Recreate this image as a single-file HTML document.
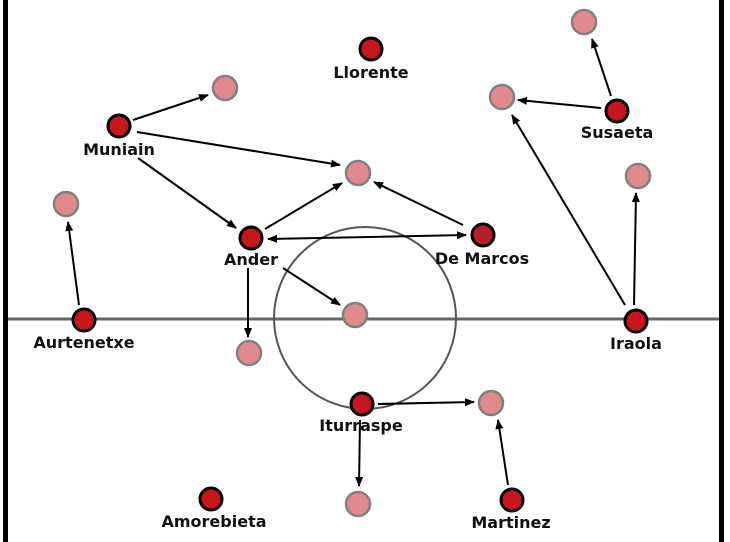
<!DOCTYPE html><html><head><style>body{margin:0;background:#fff}svg{display:block}text{font-family:"DejaVu Sans","Liberation Sans",sans-serif;font-weight:bold;font-size:16px;text-anchor:middle;fill:#111}</style></head><body>
<svg width="730" height="542" viewBox="0 0 730 542">
<defs><marker id="a" markerWidth="10" markerHeight="8" refX="9" refY="4" orient="auto-start-reverse" markerUnits="userSpaceOnUse"><path d="M0,0L10,4L0,8z" fill="#000"/></marker></defs>
<rect x="3" y="0" width="5" height="542" fill="#000"/>
<rect x="719" y="0" width="5" height="542" fill="#000"/>
<line x1="8" y1="319" x2="719" y2="319" stroke="#666" stroke-width="3"/>
<circle cx="365" cy="318" r="91" fill="none" stroke="#555" stroke-width="2"/>
<g stroke="#000" stroke-width="2" marker-end="url(#a)">
<line x1="133" y1="120" x2="208" y2="95"/>
<line x1="137" y1="132" x2="340" y2="165"/>
<line x1="138" y1="158" x2="236" y2="228"/>
<line x1="265" y1="229" x2="342" y2="183"/>
<line x1="463" y1="225" x2="374" y2="182"/>
<line x1="268" y1="239" x2="466" y2="235" marker-start="url(#a)"/>
<line x1="283" y1="268" x2="340" y2="305"/>
<line x1="248" y1="268" x2="248" y2="337"/>
<line x1="79" y1="305" x2="68" y2="222"/>
<line x1="611" y1="96" x2="592" y2="39"/>
<line x1="601" y1="108" x2="518" y2="100"/>
<line x1="625" y1="305" x2="512" y2="115"/>
<line x1="634" y1="305" x2="636" y2="193"/>
<line x1="378" y1="404" x2="474" y2="402"/>
<line x1="360" y1="420" x2="359" y2="486"/>
<line x1="508" y1="485" x2="498" y2="420"/>
</g>
<g fill="#e08a8e" stroke="#808080" stroke-width="2.5">
<circle cx="225" cy="88" r="12"/><circle cx="358" cy="173" r="12"/><circle cx="66" cy="204" r="12"/><circle cx="584" cy="22" r="12"/><circle cx="502" cy="97" r="12"/><circle cx="638" cy="176" r="12"/><circle cx="355" cy="315" r="12"/><circle cx="249" cy="353" r="12"/><circle cx="491" cy="403" r="12"/><circle cx="358" cy="504" r="12"/>
</g>
<g fill="#c8161e" stroke="#000" stroke-width="3">
<circle cx="371" cy="49" r="11"/><circle cx="119" cy="126" r="11"/><circle cx="251" cy="238" r="11"/><circle cx="483" cy="235" r="11" fill="#b51e2a"/><circle cx="617" cy="111" r="11"/><circle cx="84" cy="320" r="11"/><circle cx="636" cy="321" r="11"/><circle cx="362" cy="404" r="11"/><circle cx="211" cy="499" r="11"/><circle cx="512" cy="500" r="11"/>
</g>
<text x="371" y="78">Llorente</text>
<text x="119" y="155">Muniain</text>
<text x="251" y="265">Ander</text>
<text x="482" y="264">De Marcos</text>
<text x="617" y="138">Susaeta</text>
<text x="84" y="348">Aurtenetxe</text>
<text x="636" y="349">Iraola</text>
<text x="361" y="431">Iturraspe</text>
<text x="214" y="527">Amorebieta</text>
<text x="511" y="528">Martinez</text>
</svg></body></html>
